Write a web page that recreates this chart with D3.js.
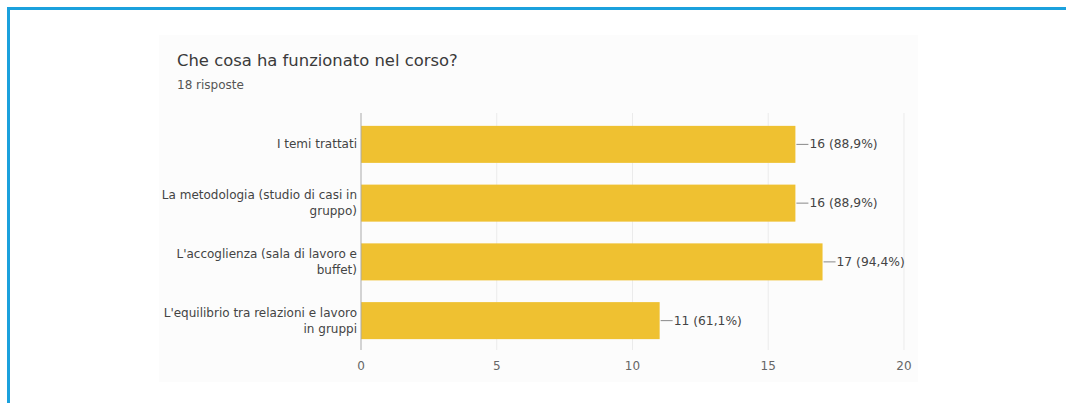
<!DOCTYPE html>
<head>
    <meta charset="utf-8">
    <title>Che cosa ha funzionato nel corso?</title>
    <style>
        body { margin: 0; background: #fff; }
        svg { display: block; font-family: "DejaVu Sans", Verdana, sans-serif; }
    </style>
</head>
<body>

    <svg width="1066" height="403"></svg>

<script src="https://d3js.org/d3.v7.min.js"></script>

<script>

    // data
    var categories = [
        ["I temi trattati"],
        ["La metodologia (studio di casi in", "gruppo)"],
        ["L'accoglienza (sala di lavoro e", "buffet)"],
        ["L'equilibrio tra relazioni e lavoro", "in gruppi"]
    ];
    var counts = [16, 16, 17, 11];
    var labels = ["16 (88,9%)", "16 (88,9%)", "17 (94,4%)", "11 (61,1%)"];
    var ticks = [0, 5, 10, 15, 20];

    var svg = d3.select("svg");

    // blue frame (top and left only)
    svg.append("rect").attr("x", 7).attr("y", 7).attr("width", 1059).attr("height", 3).attr("fill", "#1ba1dd");
    svg.append("rect").attr("x", 7).attr("y", 7).attr("width", 3).attr("height", 396).attr("fill", "#1ba1dd");

    // card
    svg.append("rect")
        .attr("x", 159).attr("y", 35).attr("width", 759).attr("height", 347)
        .attr("fill", "#fcfcfc");

    svg.append("text")
        .attr("x", 177).attr("y", 66)
        .attr("font-size", 16.4).attr("fill", "#3a3a3a")
        .text("Che cosa ha funzionato nel corso?");

    svg.append("text")
        .attr("x", 177).attr("y", 89)
        .attr("font-size", 12).attr("fill", "#555")
        .text("18 risposte");

    var x = d3.scaleLinear().domain([0, 20]).range([361, 904]);
    var y = d3.scaleBand().domain(d3.range(counts.length)).range([115, 350])
        .paddingInner(0.37).paddingOuter(0.185);

    // gridlines
    svg.append("g")
        .selectAll("line")
        .data(ticks.slice(1))
        .enter().append("line")
            .attr("x1", function(d) { return x(d); })
            .attr("x2", function(d) { return x(d); })
            .attr("y1", 113).attr("y2", 350)
            .attr("stroke", "#ebebeb");

    // bars
    svg.append("g")
        .selectAll("rect")
        .data(counts)
        .enter().append("rect")
            .attr("x", x(0))
            .attr("y", function(d, i) { return y(i); })
            .attr("width", function(d) { return x(d) - x(0); })
            .attr("height", y.bandwidth())
            .attr("fill", "#efc131");

    // zero axis line
    svg.append("line")
        .attr("x1", x(0)).attr("x2", x(0))
        .attr("y1", 113).attr("y2", 350)
        .attr("stroke", "#aaa");

    // x tick labels
    svg.append("g")
        .selectAll("text")
        .data(ticks)
        .enter().append("text")
            .attr("x", function(d) { return x(d); })
            .attr("y", 370)
            .attr("text-anchor", "middle")
            .attr("font-size", 12).attr("fill", "#666")
            .text(function(d) { return d; });

    // category labels
    var cat = svg.append("g")
        .selectAll("text")
        .data(categories)
        .enter().append("text")
            .attr("text-anchor", "end")
            .attr("font-size", 12).attr("fill", "#444")
            .attr("transform", function(d, i) {
                var cy = y(i) + y.bandwidth() / 2 - (d.length - 1) * 8;
                return "translate(357," + (cy + 4) + ")";
            });

    cat.selectAll("tspan")
        .data(function(d) { return d; })
        .enter().append("tspan")
            .attr("x", 0)
            .attr("dy", function(d, j) { return j ? 16 : 0; })
            .text(function(d) { return d; });

    // value labels with leader line
    var val = svg.append("g")
        .selectAll("g")
        .data(counts)
        .enter().append("g")
            .attr("transform", function(d, i) {
                return "translate(" + x(d) + "," + (y(i) + y.bandwidth() / 2) + ")";
            });

    val.append("line")
        .attr("x1", 1).attr("x2", 13)
        .attr("stroke", "#888");

    val.append("text")
        .attr("x", 14).attr("y", 4)
        .attr("font-size", 12.3).attr("fill", "#444")
        .text(function(d, i) { return labels[i]; });

</script>
</body>
